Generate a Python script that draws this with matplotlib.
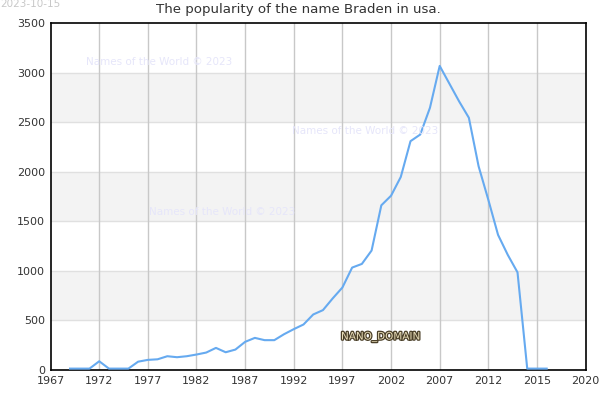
import matplotlib
matplotlib.use("Agg")
import matplotlib.pyplot as plt
import matplotlib.patheffects as pe
from matplotlib.transforms import ScaledTranslation

years = list(range(1969, 2019))
counts = [0, 0, 0, 74, 0, 0, 0, 70, 88, 94, 125, 115, 125, 142,
          162, 209, 165, 192, 270, 310, 287, 287, 347, 398, 445, 546,
          590, 708, 818, 1019, 1056, 1191, 1647, 1744, 1933, 2294, 2361,
          2631, 3053, 2874, 2695, 2530, 2041, 1703, 1349, 1147, 971, 0, 0, 0]

tick_pos = [1967, 1972, 1977, 1982, 1987, 1992, 1997, 2002, 2007, 2012, 2017, 2022]
tick_labels = ["1967", "1972", "1977", "1982", "1987", "1992", "1997", "2002",
               "2007", "2012", "2015", "2020"]
y_ticks = [0, 500, 1000, 1500, 2000, 2500, 3000, 3500]

title = "The popularity of the name Braden in usa."
date_text = "2023-10-15"
watermark = "Names of the World © 2023"

fig = plt.figure(figsize=(6, 4), dpi=100)
ax = fig.add_axes([0.0843, 0.075, 0.8917, 0.8675])
ax.set_xlim(1967, 2022)
ax.set_ylim(0, 3500)

# alternating bands
for lo in [500, 1500, 2500]:
    ax.axhspan(lo, lo + 500, color="#f3f3f3", zorder=0, lw=0)
for yv in y_ticks[1:-1]:
    ax.axhline(yv, color="#e0e0e0", lw=1, zorder=0.5)
for xv in tick_pos[1:-1]:
    ax.axvline(xv, color="#c8c8c8", lw=1, zorder=0.6)

# lift the line slightly so the zero segments sit just above the bottom spine
lift = ax.transData + ScaledTranslation(0, 1.0 / 72, fig.dpi_scale_trans)
ax.plot(years, counts, color="#66aaf0", lw=1.5, zorder=3,
        clip_on=False, transform=lift)

ax.set_xticks(tick_pos)
ax.set_xticklabels(tick_labels)
ax.set_yticks(y_ticks)
ax.tick_params(axis="both", length=0, labelsize=8, colors="#333333", pad=4)
for s in ax.spines.values():
    s.set_color("black")
    s.set_linewidth(1.2)

fig.text(0.497, 0.975, title, ha="center", va="center", fontsize=9.6, color="#333333")
fig.text(0.0, 0.99, date_text, ha="left", va="center", fontsize=7.5, color="#c8c8c8")

for (fx, fy) in [(0.1433, 0.845), (0.487, 0.6725), (0.248, 0.47)]:
    fig.text(fx, fy, watermark, ha="left", va="center", fontsize=7.5,
             color="#e6e6fa", zorder=2)

fig.text(0.5683, 0.1575, "NANO_DOMAIN", ha="left", va="center", fontsize=7.5,
         color="#e8dcb8",
         path_effects=[pe.withStroke(linewidth=1.8, foreground="#4a3f28")])

fig.savefig("out.png", dpi=100)
